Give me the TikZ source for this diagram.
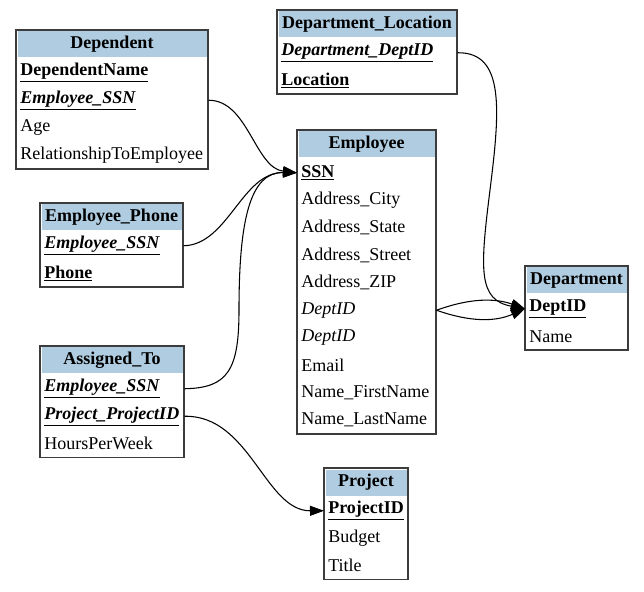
\documentclass[tikz,border=0pt]{standalone}
\usepackage{fontspec}
\setmainfont{Liberation Serif}
\newfontfamily\erfont{Liberation Serif}
\usepackage{xcolor}
\usepackage{tikz}
\usetikzlibrary{calc, positioning, arrows.meta}

\definecolor{headblue}{RGB}{176,204,224}
\definecolor{framegray}{RGB}{60,60,60}
\newcommand{\pkey}[1]{\underline{\textbf{#1}}}
\newcommand{\fkey}[1]{\underline{\textbf{\textit{#1}}}}

\tikzset{
    frame/.style={draw=framegray, line width=1pt},
    head/.style={fill=headblue, font=\erfont\fontsize{13.5pt}{16pt}\selectfont\bfseries, inner sep=0pt, minimum height=19.5pt},
    field/.style={anchor=west, inner xsep=3pt, inner ysep=0pt, minimum height=20.6pt, text width=#1, align=left},
    link/.style={line width=0.8pt, -{Triangle[length=10.5pt,width=7.5pt]}}
}

\begin{document}
\begin{tikzpicture}[x=0.75pt, y=-0.75pt, every node/.style={font=\erfont\fontsize{13.5pt}{16pt}\selectfont}]
    \useasboundingbox (0,0) rectangle (644,592);

    % Dependent
    \node[head, minimum width=141.75pt] (dep) at (112,44.5) {Dependent};
    \foreach \k/\t [count=\i from 0] in {name/{\pkey{DependentName}}, essn/{\fkey{Employee\_SSN}}, age/{Age}, rel/{RelationshipToEmployee}} {
        \node[field=138pt] (dep-\k) at (16,72.75+27.5*\i) {\t};
    }
    \draw[frame] (16,30) rectangle ++(192,139);

    % Department_Location
    \node[head, minimum width=132.75pt] (dloc) at (367,24.5) {Department\_Location};
    \foreach \k/\t [count=\i from 0] in {dept/{\fkey{Department\_DeptID}}, loc/{\pkey{Location}}} {
        \node[field=129pt] (dloc-\k) at (277,52.75+27.5*\i) {\t};
    }
    \draw[frame] (277,10) rectangle ++(180,84);

    % Employee
    \node[head, minimum width=102pt] (emp) at (366.5,144.5) {Employee};
    \foreach \k/\t [count=\i from 0] in {ssn/{\pkey{SSN}}, city/{Address\_City}, state/{Address\_State}, street/{Address\_Street}, zip/{Address\_ZIP}, dept/{\textit{DeptID}}, deptb/{\textit{DeptID}}, mail/{Email}, first/{Name\_FirstName}, last/{Name\_LastName}} {
        \node[field=98.25pt] (emp-\k) at (297,172.75+27.5*\i) {\t};
    }
    \draw[frame] (297,130) rectangle ++(139,304);

    % Employee_Phone
    \node[head, minimum width=105pt] (phone) at (111.5,217.5) {Employee\_Phone};
    \foreach \k/\t [count=\i from 0] in {essn/{\fkey{Employee\_SSN}}, num/{\pkey{Phone}}} {
        \node[field=101.25pt] (phone-\k) at (40,245.75+27.5*\i) {\t};
    }
    \draw[frame] (40,203) rectangle ++(143,84);

    % Assigned_To
    \node[head, minimum width=105.75pt] (asg) at (112,360.5) {Assigned\_To};
    \foreach \k/\t [count=\i from 0] in {essn/{\fkey{Employee\_SSN}}, proj/{\fkey{Project\_ProjectID}}, hours/{HoursPerWeek}} {
        \node[field=102pt] (asg-\k) at (40,388.75+27.5*\i) {\t};
    }
    \draw[frame] (40,346) rectangle ++(144,111.5);

    % Department
    \node[head, minimum width=75pt] (dept) at (576.5,280.5) {Department};
    \foreach \k/\t [count=\i from 0] in {id/{\pkey{DeptID}}, name/{Name}} {
        \node[field=71.25pt] (dept-\k) at (525,308.75+27.5*\i) {\t};
    }
    \draw[frame] (525,266) rectangle ++(103,84);

    % Project
    \node[head, minimum width=60.75pt] (proj) at (366,482.5) {Project};
    \foreach \k/\t [count=\i from 0] in {id/{\pkey{ProjectID}}, budget/{Budget}, title/{Title}} {
        \node[field=57pt] (proj-\k) at (324,510.75+27.5*\i) {\t};
    }
    \draw[frame] (324,468) rectangle ++(84,111.5);

    % references
    \draw[link] (dep-essn.east) .. controls (248,100) and (255,168) .. (emp-ssn.west);
    \draw[link] (phone-essn.east) .. controls (228,245) and (242,172) .. (emp-ssn.west);
    \draw[link] (asg-essn.east) .. controls (228,388) and (239,370) .. (239,310) .. controls (239,220) and (250,172) .. (emp-ssn.west);
    \draw[link] (asg-proj.east) .. controls (250,415) and (265,511) .. (proj-id.west);
    \draw[link] (dloc-dept.east) .. controls (505,52) and (500,110) .. (490,190) .. controls (480,270) and (478,300) .. (dept-id.west);
    \draw[link] (emp-dept.east) .. controls (470,298) and (495,298) .. (dept-id.west);
    \draw[link] (emp-dept.east) .. controls (470,322) and (495,322) .. (dept-id.west);
\end{tikzpicture}
\end{document}
